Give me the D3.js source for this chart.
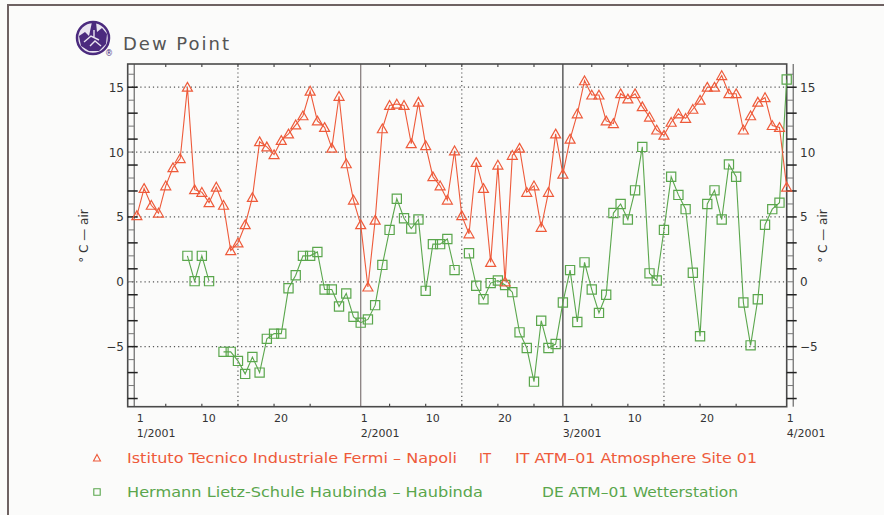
<!DOCTYPE html>
<html>
<head>
<meta charset="utf-8">
<script src="https://cdn.jsdelivr.net/npm/d3@7"></script>
<style>
  body { margin: 0; background: #fbfbfa; }
  text { font-family: "DejaVu Sans", "Liberation Sans", sans-serif; }
</style>
</head>
<body>
<svg id="chart" width="884" height="515"></svg>
<script>
// Daily dew point (°C), one value per day starting 1 January 2001, null = no reading
const firstDay = Date.UTC(2001, 0, 1);

const napoliDew = [
  5.1, 7.2, 5.9, 5.3, 7.4, 8.8, 9.5, 15.0, 7.1, 6.9, 6.1, 7.3, 5.9, 2.4, 3.0, 4.4,
  6.5, 10.8, 10.4, 9.8, 10.9, 11.4, 12.1, 12.8, 14.7, 12.4, 11.9, 10.3, 14.3, 9.1, 6.3,
  4.4, -0.4, 4.75, 11.8, 13.6, 13.7, 13.6, 10.65, 13.85, 10.5, 8.1, 7.4, 6.3, 10.1,
  5.1, 3.7, 9.2, 7.2, 1.5, 9.0, 0.0, 9.75, 10.3, 6.9, 7.4, 4.2, 6.9, 11.4,
  8.3, 11.0, 12.95, 15.5, 14.4, 14.4, 12.4, 12.2, 14.5, 14.1, 14.5, 13.5, 12.7, 11.7,
  11.3, 12.3, 12.95, 12.6, 13.3, 14.0, 15.0, 15.0, 15.9, 14.5, 14.5, 11.7, 12.8, 13.85,
  14.2, 12.05, 11.9, 7.3
];

const haubindaDew = [
  null, null, null, null, null, null, null, 2.0, 0.05, 2.0, 0.05, null,
  -5.4, -5.4, -6.1, -7.1, -5.8, -7.0, -4.4, -4.0, -4.0, -0.5, 0.5, 2.0, 2.0, 2.3,
  -0.6, -0.6, -1.9, -0.9, -2.7,
  -3.15, -2.9, -1.8, 1.3, 4.0, 6.4, 4.9, 4.1, 4.8, -0.7, 2.9, 2.9, 3.3, 0.9, null,
  2.2, -0.3, -1.35, -0.1, 0.1, -0.25, -0.8, -3.9, -5.1, -7.7, -3.0, -5.1, -4.8,
  -1.6, 0.9, -3.1, 1.5, -0.6, -2.4, -1.0, 5.3, 6.0, 4.8, 7.05, 10.4, 0.65, 0.1,
  4.0, 8.1, 6.7, 5.6, 0.7, -4.2, 6.0, 7.05, 4.8, 9.05, 8.1, -1.6, -4.9, -1.35,
  4.4, 5.6, 6.1, 15.6
];

const yTickValues = [-5, 0, 5, 10, 15];
const dayLabels = [1, 10, 20];
const monthStarts = ["1/2001", "2/2001", "3/2001", "4/2001"];
const legendRows = [
  { marker: "triangle", parts: ["Istituto Tecnico Industriale Fermi \u2013 Napoli", "IT", "IT ATM\u201301 Atmosphere Site 01"] },
  { marker: "square", parts: ["Hermann Lietz-Schule Haubinda \u2013 Haubinda", "DE ATM\u201301 Wetterstation"] }
];

const RED = "#ee5a3a", GREEN = "#5aa64c", AXIS = "#4a4a4a";
const DAY = 864e5;
const toDate = i => new Date(firstDay + i * DAY);

const svg = d3.select("#chart");
const plotL = 127.7, plotR = 786.7, plotT = 64, plotB = 406.7;

const x = d3.scaleUtc()
  .domain([new Date(firstDay - 1.27 * DAY), new Date(Date.UTC(2001, 3, 1))])
  .range([plotL, plotR]);
const y = d3.scaleLinear().domain([-9.63, 16.79]).range([plotB, plotT]);

// page frame
svg.append("rect").attr("width", 884).attr("height", 515).attr("fill", "#fbfbfa");
svg.append("path").attr("d", "M8,515V5H884").attr("fill", "none")
  .attr("stroke", "#6e6262").attr("stroke-width", 2);

// logo
const logo = svg.append("g").attr("transform", "translate(93,38)");
logo.append("circle").attr("r", 16).attr("fill", "#e9e4f0").attr("stroke", "#4b2a7e").attr("stroke-width", 2.5);
logo.append("path").attr("d", "M-14,-2 L-8,-6 L-4,-2 L-1,-16 L3,-16 L4,-6 L9,-10 L14,-4 L13,6 L6,13 L-4,13 L-12,8 Z")
  .attr("fill", "#4b2a7e");
logo.append("path").attr("d", "M-9,4 L-2,-2 L6,2 M-3,8 L2,3 L8,8 M1,-8 L1,0")
  .attr("stroke", "#e9e4f0").attr("stroke-width", 1.4).attr("fill", "none");
svg.append("text").attr("x", 109).attr("y", 56).attr("text-anchor", "middle")
  .attr("font-size", 8).attr("fill", "#4b2a7e").text("\u00ae");

// title
svg.append("text").attr("x", 123).attr("y", 50).attr("font-size", 18)
  .attr("fill", "#555").attr("textLength", 106).text("Dew Point");

// horizontal dotted grid
svg.append("g").selectAll("line").data(yTickValues).join("line")
  .attr("x1", plotL).attr("x2", plotR)
  .attr("y1", d => y(d)).attr("y2", d => y(d))
  .attr("stroke", "#555").attr("stroke-width", 1.2).attr("stroke-dasharray", "1.2,3");

// vertical dotted grid at mid-month, solid at month starts
const midMonths = [0, 1, 2].map(m => new Date(Date.UTC(2001, m, 15)));
svg.append("g").selectAll("line").data(midMonths).join("line")
  .attr("x1", d => x(d)).attr("x2", d => x(d)).attr("y1", plotT).attr("y2", plotB)
  .attr("stroke", "#555").attr("stroke-width", 1.2).attr("stroke-dasharray", "1.2,3");
const monthLines = [1, 2].map(m => new Date(Date.UTC(2001, m, 1)));
svg.append("g").selectAll("line").data(monthLines).join("line")
  .attr("x1", d => x(d)).attr("x2", d => x(d)).attr("y1", plotT).attr("y2", plotB)
  .attr("stroke", (d, i) => i === 0 ? "#8a8080" : "#444").attr("stroke-width", 1.3);

// plot frame
svg.append("rect").attr("x", plotL).attr("y", plotT).attr("width", plotR - plotL).attr("height", plotB - plotT)
  .attr("fill", "none").attr("stroke", AXIS).attr("stroke-width", 1.6);

// 5-day ticks on top and bottom edges
const fiveDays = [];
for (let m = 0; m < 3; m++) for (const d of [5, 10, 15, 20, 25]) fiveDays.push(new Date(Date.UTC(2001, m, d)));
const tickG = svg.append("g");
tickG.selectAll(".bt").data(fiveDays).join("line").attr("class", "bt")
  .attr("x1", d => x(d)).attr("x2", d => x(d)).attr("y1", plotB).attr("y2", plotB - 3)
  .attr("stroke", AXIS).attr("stroke-width", 1.2);
tickG.selectAll(".tt").data(fiveDays).join("line").attr("class", "tt")
  .attr("x1", d => x(d)).attr("x2", d => x(d)).attr("y1", plotT).attr("y2", plotT + 3)
  .attr("stroke", AXIS).attr("stroke-width", 1.2);

// y ladders on both sides: rungs every degree, longer ticks every two
const rungs = d3.range(-9, 17);
function ladder(x0, dir) {
  const g = svg.append("g");
  g.append("line").attr("x1", x0 + dir * 6.5).attr("x2", x0 + dir * 6.5).attr("y1", plotT).attr("y2", plotB)
    .attr("stroke", AXIS).attr("stroke-width", 1);
  g.selectAll("line.r").data(rungs).join("line").attr("class", "r")
    .attr("x1", x0).attr("x2", d => x0 + dir * ((d % 2 !== 0) ? 10 : 6.5))
    .attr("y1", d => y(d)).attr("y2", d => y(d))
    .attr("stroke", d => (d % 2 !== 0) ? "#222" : "#777")
    .attr("stroke-width", d => (d % 2 !== 0) ? 1.5 : 1);
}
ladder(plotL, 1);
ladder(plotR, 1);

// y tick labels
const yLab = svg.append("g").attr("font-size", 12).attr("fill", "#333");
yLab.selectAll(".l").data(yTickValues).join("text").attr("class", "l")
  .attr("x", 124).attr("y", d => y(d) + 4.5).attr("text-anchor", "end")
  .text(d => d < 0 ? "\u2212" + Math.abs(d) : d);
yLab.selectAll(".r").data(yTickValues).join("text").attr("class", "r")
  .attr("x", 800).attr("y", d => y(d) + 4.5).attr("text-anchor", "start")
  .text(d => d < 0 ? "\u2212" + Math.abs(d) : d);

// axis titles
[88, 827].forEach(cx => {
  svg.append("text").attr("transform", `translate(${cx},236) rotate(-90)`)
    .attr("text-anchor", "middle").attr("font-size", 12).attr("fill", "#333")
    .text("\u00b0 C \u2014 air");
});

// x labels: day numbers then month/year under each first of month
const xLabels = [];
for (let m = 0; m < 4; m++) {
  const days = m < 3 ? dayLabels : [1];
  days.forEach(d => xLabels.push({ date: new Date(Date.UTC(2001, m, d)), text: String(d) }));
}
const xl = svg.append("g").attr("font-size", 11).attr("fill", "#333");
xl.selectAll(".d").data(xLabels).join("text").attr("class", "d")
  .attr("x", d => x(d.date)).attr("y", 422).text(d => d.text);
xl.selectAll(".m").data(monthStarts).join("text").attr("class", "m")
  .attr("x", (d, i) => x(new Date(Date.UTC(2001, i, 1)))).attr("y", 437).text(d => d);

// series
function series(values, color, marker) {
  const pts = values.map((v, i) => ({ date: toDate(i), v }));
  const line = d3.line().defined(d => d.v !== null).x(d => x(d.date)).y(d => y(d.v));
  const g = svg.append("g");
  g.append("path").attr("d", line(pts)).attr("fill", "none").attr("stroke", color).attr("stroke-width", 1.1);
  const shape = marker === "triangle"
    ? "M0,-4.8L5,4L-5,4Z"
    : "M-4.6,-4.6H4.6V4.6H-4.6Z";
  g.selectAll("path.m").data(pts.filter(d => d.v !== null)).join("path").attr("class", "m")
    .attr("d", shape).attr("transform", d => `translate(${x(d.date)},${y(d.v)})`)
    .attr("fill", "none").attr("stroke", color).attr("stroke-width", 1.2);
}
series(haubindaDew, GREEN, "square");
series(napoliDew, RED, "triangle");

// legend
const legendX = [[127, 479, 515], [127, 542]];
const legendW = [[330, 12, 242], [356, 196]];
legendRows.forEach((row, r) => {
  const cy = 458 + r * 34;
  const color = r === 0 ? RED : GREEN;
  svg.append("path")
    .attr("d", row.marker === "triangle" ? "M0,-3.5L3.5,3L-3.5,3Z" : "M-3.2,-3.2H3.2V3.2H-3.2Z")
    .attr("transform", `translate(97,${cy})`).attr("fill", "none").attr("stroke", color).attr("stroke-width", 1.1);
  row.parts.forEach((p, k) => {
    svg.append("text").attr("x", legendX[r][k]).attr("y", cy + 5)
      .attr("font-size", 13.5).attr("fill", color)
      .attr("textLength", legendW[r][k]).attr("lengthAdjust", "spacingAndGlyphs")
      .text(p);
  });
});
</script>
</body>
</html>
